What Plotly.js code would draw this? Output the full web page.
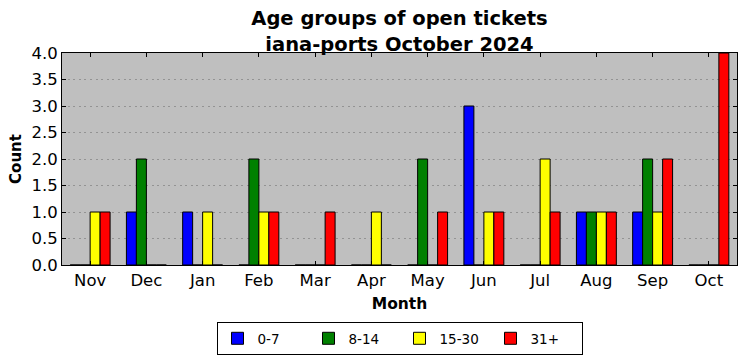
<!DOCTYPE html>
<html>
<head>
<meta charset="utf-8">
<script src="https://cdn.plot.ly/plotly-3.0.1.min.js"></script>
<style>html,body{margin:0;padding:0;background:#fff;}#chart{width:746px;height:361px;}</style>
</head>
<body>
<div id="chart"></div>
<script>
const months = ["Nov","Dec","Jan","Feb","Mar","Apr","May","Jun","Jul","Aug","Sep","Oct"];
const age0to7   = [0,1,1,0,0,0,0,3,0,1,1,0];
const age8to14  = [0,2,0,2,0,0,2,0,0,1,2,0];
const age15to30 = [1,0,1,1,0,1,0,1,2,1,1,0];
const age31plus = [1,0,0,1,1,0,1,1,1,1,2,4];
const seriesNames = ["0-7","8-14","15-30","31+"];
const seriesColors = ["#0000ff","#008000","#ffff00","#ff0000"];
const seriesValues = [age0to7, age8to14, age15to30, age31plus];

const font = "DejaVu Sans, sans-serif";
const traces = seriesValues.map((vals, i) => ({
  type: "bar",
  x: months,
  y: vals,
  name: seriesNames[i],
  marker: {color: seriesColors[i], line: {color: "#000", width: 1}},
  hoverinfo: "skip"
}));

const layout = {
  width: 746, height: 361,
  margin: {l: 62, r: 9, t: 53, b: 96},
  paper_bgcolor: "#ffffff",
  plot_bgcolor: "#bfbfbf",
  font: {family: font, color: "#000", size: 13},
  barmode: "group",
  bargap: 0.29,
  bargroupgap: 0,
  title: {
    text: "<b>Age groups of open tickets</b><br><b>iana-ports October 2024</b>",
    font: {family: font, size: 19.5, color: "#000"},
    x: 0.5, xref: "paper", xanchor: "center",
    y: 0.93, yref: "container", yanchor: "top"
  },
  xaxis: {
    type: "category",
    range: [-0.5, 11.5],
    showline: true, linecolor: "#000", linewidth: 1, mirror: "ticks",
    ticks: "inside", ticklen: 4, tickcolor: "#000",
    showgrid: false,
    tickfont: {family: font, size: 16.5},
    title: {text: "<b>Month</b>", font: {family: font, size: 15.5}, standoff: 9}
  },
  yaxis: {
    range: [0, 4],
    dtick: 0.5, tickformat: ".1f",
    showline: true, linecolor: "#000", linewidth: 1, mirror: "ticks",
    ticks: "inside", ticklen: 4, tickcolor: "#000",
    showgrid: true, gridcolor: "#939393", griddash: "2px,3.6px", gridwidth: 1,
    zeroline: false,
    tickfont: {family: font, size: 16.5},
    title: {text: "<b>Count</b>", font: {family: font, size: 15}, standoff: 6}
  },
  legend: {
    orientation: "h",
    x: 0.5, xanchor: "center",
    yref: "container",
    y: 0.108, yanchor: "top",
    bordercolor: "#000", borderwidth: 1,
    bgcolor: "#fff",
    font: {family: font, size: 13.5},
    entrywidth: 46
  },
  showlegend: true
};

Plotly.newPlot("chart", traces, layout, {displayModeBar: false, staticPlot: true});
</script>
</body>
</html>
